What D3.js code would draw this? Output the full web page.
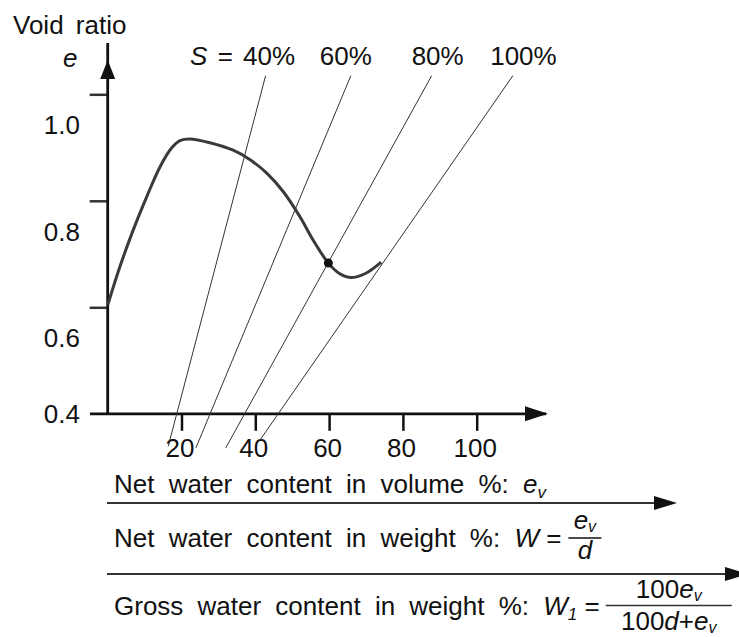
<!DOCTYPE html>
<html><head><meta charset="utf-8">
<script src="https://cdn.jsdelivr.net/npm/d3@7"></script>
<style>
body{margin:0;background:#fff}
svg{display:block}
text{font-family:'Liberation Sans',Arial,Helvetica,sans-serif;fill:#111;font-size:26px}
</style>
</head><body>
<svg id="chart" width="739" height="637"></svg>
<script>
// ---- data ----
const waterContent = [0, 3.3, 6.9, 10.6, 14.2, 17.3, 19.6, 22.3, 27.7, 34, 38.6, 43.1, 47.6, 52.1, 55.7, 59.8, 62.9, 65.7, 69.7, 74.1];
const voidRatio    = [0.604, 0.676, 0.745, 0.808, 0.864, 0.899, 0.913, 0.916, 0.909, 0.895, 0.877, 0.852, 0.817, 0.770, 0.726, 0.683, 0.663, 0.656, 0.663, 0.685];
const optimumWater = 59.8;
const optimumVoid = 0.683;
const satLabels = ["40%", "60%", "80%", "100%"];
const satTopWater = [42.8, 65.9, 87.8, 109.8];
const satTopVoid = [1.035, 1.035, 1.035, 1.035];
const satBottomWater = [16.4, 23.9, 32.0, 41.3];
const satBottomVoid = [0.339, 0.336, 0.336, 0.351];
const xTicks = [20, 40, 60, 80, 100];
const yTicks = [1.0, 0.8, 0.6, 0.4];
const yTickLabels = ["1.0", "0.8", "0.6", "0.4"];

// ---- layout ----
const svg = d3.select("#chart");
const x = d3.scaleLinear().domain([0, 100]).range([107.7, 476.7]);
const y = d3.scaleLinear().domain([0.4, 1.0]).range([413.8, 94.3]);
const ink = "#111";

function arrowHead(g, tipX, tipY, dir, len, half) {
  let pts;
  if (dir === "up") pts = [[tipX, tipY], [tipX - half, tipY + len], [tipX + half, tipY + len]];
  else pts = [[tipX, tipY], [tipX - len, tipY - half], [tipX - len, tipY + half]];
  g.append("path").attr("d", d3.line()(pts) + "Z").attr("fill", ink);
}

// y axis ticks (custom labels below)
const yAxisG = svg.append("g").attr("transform", `translate(${x(0)},0)`)
  .call(d3.axisLeft(y).tickValues(yTicks.filter(v => v > 0.4)).tickSize(18).tickFormat(""));
yAxisG.select(".domain").remove();
yAxisG.selectAll(".tick line").attr("stroke", "#333").attr("stroke-width", 2.5);

// x axis ticks + labels
const xAxisG = svg.append("g").attr("transform", `translate(0,${y(0.4)})`)
  .call(d3.axisBottom(x).tickValues(xTicks).tickSize(17).tickPadding(8).tickFormat(d3.format("d")));
xAxisG.select(".domain").remove();
xAxisG.selectAll(".tick line").attr("stroke", ink).attr("stroke-width", 2.5);
xAxisG.selectAll(".tick text").attr("font-size", 26).attr("fill", ink)
  .attr("font-family", "'Liberation Sans',Arial,sans-serif").attr("dx", -2);

// axis lines
svg.append("line").attr("x1", x(0)).attr("x2", x(0)).attr("y1", y(0.4)).attr("y2", 43)
  .attr("stroke", ink).attr("stroke-width", 2.8);
arrowHead(svg, x(0), 60, "up", 19, 7.5);
svg.append("line").attr("x1", 90).attr("x2", 546).attr("y1", y(0.4)).attr("y2", y(0.4))
  .attr("stroke", ink).attr("stroke-width", 2.8);
arrowHead(svg, 548, y(0.4), "right", 23, 7.5);

// y tick labels
svg.selectAll("text.ylab").data(yTicks).join("text").attr("class", "ylab")
  .attr("x", 80).attr("text-anchor", "end")
  .attr("y", d => d > 0.4 ? y(d) + 31 : y(d)).attr("dy", "0.35em")
  .text((d, i) => yTickLabels[i]);

// axis titles
svg.append("text").attr("x", 13).attr("y", 34.3).attr("word-spacing", 5).text("Void ratio");
svg.append("text").attr("x", 63).attr("y", 66.5).attr("font-style", "italic").text("e");

// saturation lines
const satIdx = d3.range(satLabels.length);
svg.selectAll("line.sat").data(satIdx).join("line").attr("class", "sat")
  .attr("x1", i => x(satTopWater[i])).attr("y1", i => y(satTopVoid[i]))
  .attr("x2", i => x(satBottomWater[i])).attr("y2", i => y(satBottomVoid[i]))
  .attr("stroke", "#333").attr("stroke-width", 1);

// saturation labels
const satLabelShift = [29.5, -5, 6, 10.6];
satIdx.forEach(i => {
  const t = svg.append("text").attr("y", 65);
  if (i === 0) {
    t.attr("x", x(satTopWater[i]) + satLabelShift[i]).attr("text-anchor", "end").attr("word-spacing", 3);
    t.append("tspan").attr("font-style", "italic").text("S");
    t.append("tspan").text(" = " + satLabels[i]);
  } else {
    t.attr("x", x(satTopWater[i]) + satLabelShift[i]).attr("text-anchor", "middle").text(satLabels[i]);
  }
});

// compaction curve
const pts = waterContent.map((w, i) => [w, voidRatio[i]]);
svg.append("path")
  .attr("d", d3.line().x(d => x(d[0])).y(d => y(d[1])).curve(d3.curveCatmullRom.alpha(0.5))(pts))
  .attr("fill", "none").attr("stroke", "#3a3a3a").attr("stroke-width", 3);
svg.append("circle").attr("cx", x(optimumWater)).attr("cy", y(optimumVoid)).attr("r", 4.5).attr("fill", ink);

// bottom scales
const rows = [
  {line: 503, tip: 677},
  {line: 574, tip: 748},
];
rows.forEach(r => {
  svg.append("line").attr("x1", 107).attr("x2", r.tip - 20).attr("y1", r.line).attr("y2", r.line)
    .attr("stroke", "#333").attr("stroke-width", 2);
  arrowHead(svg, r.tip, r.line, "right", 23, 7);
});

function subE(t, size, dy) {
  t.append("tspan").attr("font-style", "italic").text("e");
  t.append("tspan").attr("font-style", "italic").attr("font-size", size).attr("dy", dy).text("v");
}

// row 1
const r1 = svg.append("text").attr("x", 114).attr("y", 493.3).attr("word-spacing", 7);
r1.append("tspan").text("Net water content in volume %: ");
subE(r1, 17, 5);

// row 2
const r2 = svg.append("text").attr("x", 114).attr("y", 547.3).attr("word-spacing", 7);
r2.append("tspan").text("Net water content in weight %: ");
r2.append("tspan").attr("font-style", "italic").text("W");
r2.append("tspan").attr("word-spacing", 0).text(" =");
const r2end = 114 + r2.node().getComputedTextLength();
const f2x0 = r2end + 7, f2w = 33;
svg.append("line").attr("x1", f2x0).attr("x2", f2x0 + f2w).attr("y1", 538).attr("y2", 538)
  .attr("stroke", ink).attr("stroke-width", 1.5);
const n2 = svg.append("text").attr("x", f2x0 + f2w / 2).attr("y", 529).attr("text-anchor", "middle");
subE(n2, 16, 3);
svg.append("text").attr("x", f2x0 + f2w / 2).attr("y", 559).attr("text-anchor", "middle")
  .attr("font-style", "italic").text("d");

// row 3
const r3 = svg.append("text").attr("x", 114).attr("y", 615).attr("word-spacing", 7);
r3.append("tspan").text("Gross water content in weight %: ");
r3.append("tspan").attr("font-style", "italic").text("W");
r3.append("tspan").attr("font-style", "italic").attr("font-size", 17).attr("dy", 5).text("1");
r3.append("tspan").attr("dy", -5).attr("word-spacing", 0).text(" =");
const r3end = 114 + r3.node().getComputedTextLength();
const f3x0 = r3end + 6, f3w = 126;
svg.append("line").attr("x1", f3x0).attr("x2", f3x0 + f3w).attr("y1", 605.5).attr("y2", 605.5)
  .attr("stroke", "#333").attr("stroke-width", 1.5);
const n3 = svg.append("text").attr("x", f3x0 + f3w / 2).attr("y", 598).attr("text-anchor", "middle");
n3.append("tspan").text("100");
subE(n3, 16, 3);
const d3t = svg.append("text").attr("x", f3x0 + f3w / 2).attr("y", 630).attr("text-anchor", "middle");
d3t.append("tspan").text("100");
d3t.append("tspan").attr("font-style", "italic").text("d");
d3t.append("tspan").text("+");
subE(d3t, 16, 3);
</script>
</body></html>
